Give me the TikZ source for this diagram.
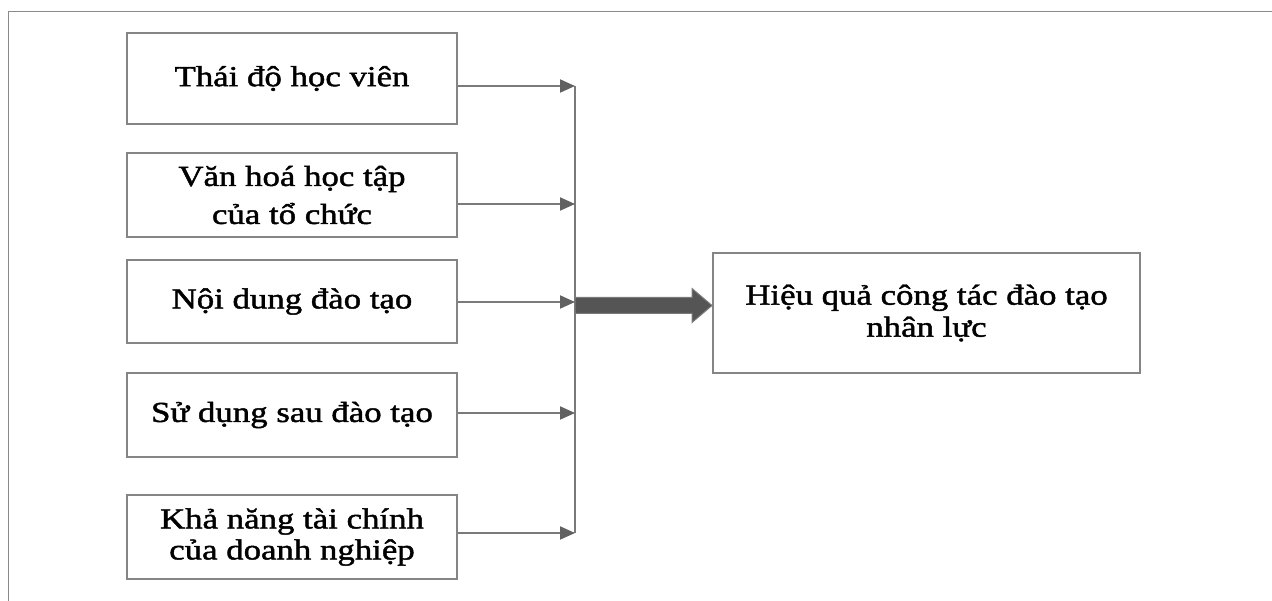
\documentclass[tikz,border=0pt]{standalone}
\usepackage{fontspec}
\setmainfont{Liberation Serif}[FakeStretch=1.2,FakeBold=1.5]
\usetikzlibrary{arrows.meta,calc}
\definecolor{boxgray}{HTML}{858585}
\definecolor{linegray}{HTML}{7A7A7A}
\definecolor{tipgray}{HTML}{616161}
\definecolor{bigfill}{HTML}{555555}
\definecolor{framegray}{HTML}{8A8A8A}
\begin{document}
\begin{tikzpicture}[x=1pt,y=-1pt,
  box/.style={draw=boxgray,line width=2pt,align=center,inner sep=0pt,
    minimum width=330pt,font=\fontsize{29}{38}\selectfont},
  link/.style={draw=linegray,line width=2pt,
    -{Triangle[length=15pt,width=13pt,color=tipgray]}},
  bus/.style={draw=linegray,line width=2pt},
  bigarrow/.style={fill=bigfill,draw=linegray,line width=1pt,line join=miter}]
\useasboundingbox (0,0) rectangle (1272,601);

% outer frame (top and left edges)
\draw[framegray,line width=1.5pt] (1272,11.5) -- (8.5,11.5) -- (8.5,601);

% factor boxes
\node[box,minimum height=91pt] (b1) at (292,78.5) {Thái độ học viên};
\node[box,minimum height=84pt] (b2) at (292,195) {Văn hoá học tập\\[0pt]của tổ chức};
\node[box,minimum height=83pt] (b3) at (292,301.5) {Nội dung đào tạo};
\node[box,minimum height=84pt] (b4) at (292,415) {Sử dụng sau đào tạo};
\node[box,minimum height=84pt,font=\fontsize{29}{31}\selectfont] (b5) at (292,537)
  {Khả năng tài chính\\của doanh nghiệp};

% outcome box
\node[box,minimum width=427pt,minimum height=120pt,font=\fontsize{29}{32}\selectfont]
  (res) at (926.5,313) {Hiệu quả công tác đào tạo\\nhân lực};

% arrow ends on the collecting line
\coordinate (t1) at (575,86);
\coordinate (t2) at (575,204);
\coordinate (t3) at (575,302);
\coordinate (t4) at (575,413);
\coordinate (t5) at (575,533);
\coordinate (hub) at (575,305.5);

\draw[bus] (t1) -- (t5);
\foreach \i in {1,...,5}
  \draw[link] (b\i.east |- t\i) -- (t\i);

% thick block arrow into the outcome box
\coordinate (tip) at (res.west |- hub);
\draw[bigarrow] ($(hub)+(0,-8)$) -- ($(tip)+(-20,-8)$) -- ($(tip)+(-20,-17)$)
  -- (tip) -- ($(tip)+(-20,17)$) -- ($(tip)+(-20,8)$) -- ($(hub)+(0,8)$) -- cycle;
\end{tikzpicture}
\end{document}
